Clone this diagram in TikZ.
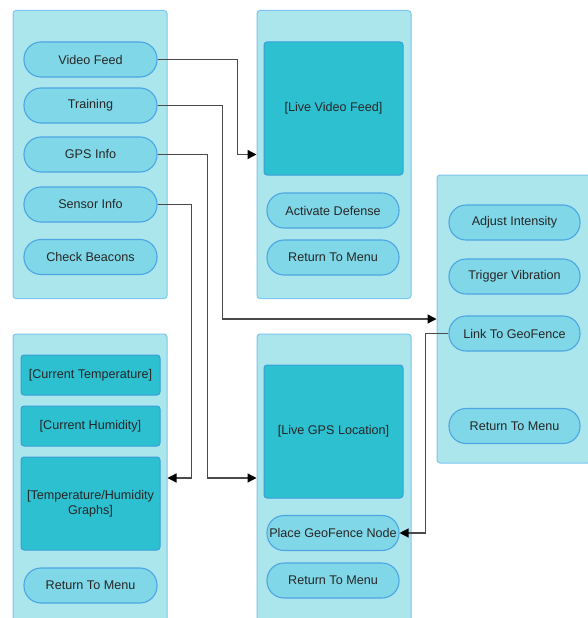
\documentclass[tikz,border=0pt]{standalone}
\usepackage{fontspec}
\setmainfont{Liberation Sans}
\usetikzlibrary{arrows.meta}
\definecolor{panelfill}{HTML}{ABE6EC}
\definecolor{paneldraw}{HTML}{7EC5F0}
\definecolor{btnfill}{HTML}{80D7E7}
\definecolor{btndraw}{HTML}{4DA5E3}
\definecolor{boxfill}{HTML}{2CC0D0}
\definecolor{boxdraw}{HTML}{3A9ED9}
\definecolor{txt}{HTML}{262626}
\definecolor{wire}{HTML}{4A4A4A}
\tikzset{
  panel/.style={draw=paneldraw, fill=panelfill, line width=1pt, rounded corners=3pt,
    minimum width=154pt, minimum height=288pt, inner sep=0pt},
  btn/.style={draw=btndraw, fill=btnfill, line width=1.1pt, rounded corners=17pt,
    minimum height=35pt, inner sep=0pt, text=txt,
    font=\fontsize{12.6}{15}\selectfont},
  bigbox/.style={draw=boxdraw, fill=boxfill, line width=1pt, rounded corners=3pt,
    minimum width=139pt, inner sep=0pt, text=txt, align=center,
    font=\fontsize{12.6}{15}\selectfont},
  wirel/.style={draw=wire, line width=1.3pt,
    -{Triangle[length=9pt,width=9pt,color=black]}}
}
\begin{document}
\begin{tikzpicture}[x=1pt,y=-1pt]
\useasboundingbox (0,0) rectangle (588,618);
\clip (0,0) rectangle (588,618);
\fill[white] (0,0) rectangle (588,618);
% panels
\node[panel] (p1) at (90,154.5) {};
\node[panel] (p2) at (334,154.5) {};
\node[panel] (p3) at (514,319) {};
\node[panel] (p4) at (90,478) {};
\node[panel] (p5) at (334,478) {};
% panel 1
\node[btn, minimum width=133pt] (vf) at (90.5,59.5) {Video Feed};
\node[btn, minimum width=133pt] (tr) at (90.5,105.5) {Training};
\node[btn, minimum width=133pt] (gps) at (90.5,154.5) {GPS Info};
\node[btn, minimum width=133pt] (si) at (90.5,204.5) {Sensor Info};
\node[btn, minimum width=133pt] (cb) at (90.5,257) {Check Beacons};
% panel 2
\node[bigbox, minimum height=133pt] (lvf) at (333.5,108.5) {[Live Video Feed]};
\node[btn, minimum width=132pt] (ad) at (333,210.5) {Activate Defense};
\node[btn, minimum width=132pt] (rm2) at (333,257.5) {Return To Menu};
% panel 3
\node[btn, minimum width=131pt] (ai) at (514.5,222.5) {Adjust Intensity};
\node[btn, minimum width=131pt] (tv) at (514.5,276.5) {Trigger Vibration};
\node[btn, minimum width=131pt] (link) at (514.5,333.5) {Link To GeoFence};
\node[btn, minimum width=131pt] (rm3) at (514.5,426) {Return To Menu};
% panel 4
\node[bigbox, minimum height=40pt] (ct) at (90.5,375) {[Current Temperature]};
\node[bigbox, minimum height=40pt] (ch) at (90.5,426) {[Current Humidity]};
\node[bigbox, minimum height=93pt] (gr) at (90.5,503.5) {[Temperature/Humidity\\Graphs]};
\node[btn, minimum width=133pt] (rm4) at (90.5,585.5) {Return To Menu};
% panel 5
\node[bigbox, minimum height=133pt] (lgps) at (333.5,431.5) {[Live GPS Location]};
\node[btn, minimum width=132pt] (place) at (333,533) {Place GeoFence Node};
\node[btn, minimum width=132pt] (rm5) at (333,580.5) {Return To Menu};
% connectors
\draw[wirel] (vf.east) -- ++(80,0) |- (p2.west);
\draw[wirel] (tr.east) -- ++(65,0) |- (p3.west);
\draw[wirel] (gps.east) -- ++(50,0) |- (p5.west);
\draw[wirel] (si.east) -- ++(34,0) |- (p4.east);
\draw[wirel] (link.west) -- ++(-23,0) |- (place.east);
\end{tikzpicture}
\end{document}
